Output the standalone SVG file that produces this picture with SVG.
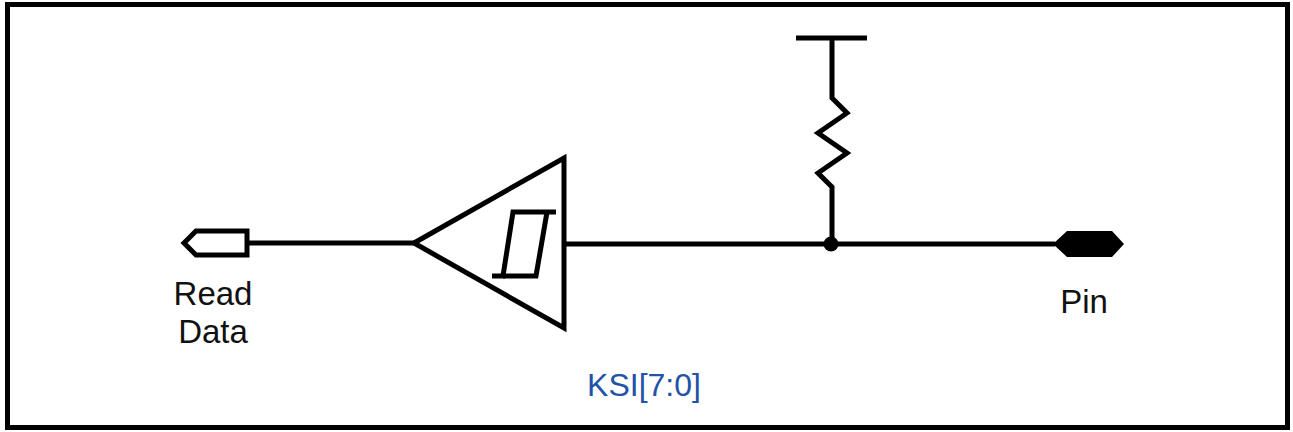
<svg xmlns="http://www.w3.org/2000/svg" width="1293" height="432" viewBox="0 0 1293 432">
<style>
.w{fill:none;stroke:#000;stroke-width:5;stroke-linejoin:miter;stroke-linecap:butt}
.t{font-family:"Liberation Sans",Arial,sans-serif;font-size:33px;fill:#111}
.b{font-family:"Liberation Sans",Arial,sans-serif;font-size:32px;fill:#2352a6}
</style>
<rect x="7.5" y="4.5" width="1280" height="423" fill="#fff" stroke="#000" stroke-width="5"/>
<g id="connectors">
<line class="w" x1="247" y1="243" x2="414" y2="243"/>
<line class="w" x1="564" y1="244" x2="1055" y2="244"/>
<polyline class="w" points="832,38 832,98 847,113 818,133 847,153 818,173 832,187 832,244"/>
</g>
<g id="read-data">
<polygon class="w" points="184,243 196,231 247,231 247,255 196,255"/>
<text class="t" x="213" y="305" text-anchor="middle">Read</text>
<text class="t" x="213" y="343" text-anchor="middle">Data</text>
</g>
<g id="buffer">
<polygon class="w" points="414,243 564,158 564,328"/>
<polyline class="w" points="556,212 513,212 503,276 492,276"/>
<polyline class="w" points="547,212 536,276 503,276"/>
</g>
<g id="pullup">
<line class="w" x1="796" y1="38" x2="867" y2="38"/>
</g>
<g id="junction">
<circle cx="831" cy="244" r="7.5" fill="#000"/>
</g>
<g id="pin">
<polygon points="1053,244 1067,231 1112,231 1124,244 1112,257 1067,257" fill="#000"/>
<text class="t" x="1084" y="313" text-anchor="middle">Pin</text>
</g>
<g id="label">
<text class="b" x="644" y="396" text-anchor="middle">KSI[7:0]</text>
</g>
</svg>
